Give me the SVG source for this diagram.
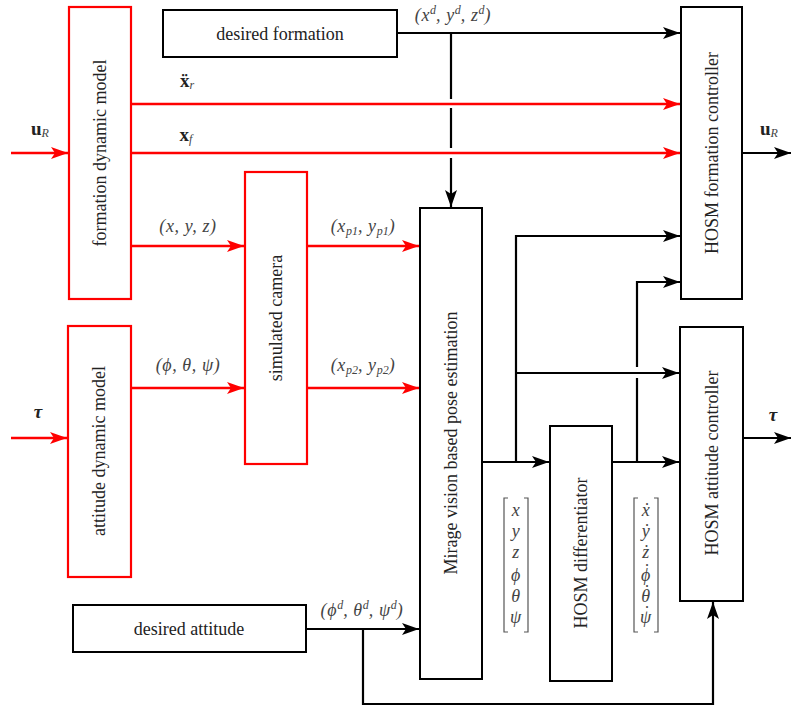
<svg xmlns="http://www.w3.org/2000/svg" width="791" height="706" viewBox="0 0 791 706">
<defs>
<style>
.rb{fill:#fff;stroke:#f00;stroke-width:2.2}
.bb{fill:#fff;stroke:#000;stroke-width:2}
.lbl{font-family:"Liberation Serif","Times New Roman",serif;font-size:18px;fill:#222;text-anchor:middle}
.m{font-family:"Liberation Serif","DejaVu Serif",serif;font-style:italic;font-size:18px;fill:#444;text-anchor:middle;letter-spacing:0.6px}
.dot{font-family:"Liberation Serif","DejaVu Serif",serif;font-size:18px;fill:#444;text-anchor:middle}
.mb{font-family:"Liberation Serif","DejaVu Serif",serif;font-weight:bold;font-size:19px;fill:#222;text-anchor:middle}
.sub{font-size:12px;letter-spacing:0}
.r{fill:none;stroke:#f00;stroke-width:2.5}
.k{fill:none;stroke:#000;stroke-width:2.2}
.br{fill:none;stroke:#555;stroke-width:1.2}
</style>
<marker id="ak" markerUnits="userSpaceOnUse" markerWidth="18" markerHeight="14" viewBox="-17 -7 18 14" refX="0" refY="0" orient="auto">
<path d="M0,0 L-17,-6 L-13,0 L-17,6 Z" fill="#000"/>
</marker>
<marker id="ar" markerUnits="userSpaceOnUse" markerWidth="18" markerHeight="14" viewBox="-17 -7 18 14" refX="0" refY="0" orient="auto">
<path d="M0,0 L-17,-6 L-13,0 L-17,6 Z" fill="#f00"/>
</marker>
</defs>
<rect width="791" height="706" fill="#fff"/>

<g id="connectors">
<path class="r" d="M11,153 H68" marker-end="url(#ar)"/>
<path class="r" d="M11,438 H67" marker-end="url(#ar)"/>
<path class="r" d="M132,104 H680" marker-end="url(#ar)"/>
<path class="r" d="M132,153 H680" marker-end="url(#ar)"/>
<path class="r" d="M132,246 H244" marker-end="url(#ar)"/>
<path class="r" d="M132,388 H244" marker-end="url(#ar)"/>
<path class="r" d="M308,246 H419" marker-end="url(#ar)"/>
<path class="r" d="M308,388 H419" marker-end="url(#ar)"/>
<path class="k" d="M398,33 H680" marker-end="url(#ak)"/>
<path class="k" d="M451,33 V99 M451,108 V148 M451,158 V207" marker-end="url(#ak)"/>
<path class="k" d="M483,462 H549" marker-end="url(#ak)"/>
<path class="k" d="M516,462 V236 H680" marker-end="url(#ak)"/>
<path class="k" d="M516,373 H679" marker-end="url(#ak)"/>
<path class="k" d="M613,462 H679" marker-end="url(#ak)"/>
<path class="k" d="M637,462 V378 M637,367 V282 H680" marker-end="url(#ak)"/>
<path class="k" d="M307,629 H419" marker-end="url(#ak)"/>
<path class="k" d="M363,629 V704 H713 V602" marker-end="url(#ak)"/>
<path class="k" d="M743,153 H791" marker-end="url(#ak)"/>
<path class="k" d="M744,438 H791" marker-end="url(#ak)"/>
</g>

<g id="formation-dynamic-model">
<rect class="rb" x="69" y="7" width="62" height="292"/>
<text class="lbl" transform="translate(106,153) rotate(-90)">formation dynamic model</text>
</g>
<g id="attitude-dynamic-model">
<rect class="rb" x="68" y="326" width="63" height="251"/>
<text class="lbl" transform="translate(105,451) rotate(-90)">attitude dynamic model</text>
</g>
<g id="simulated-camera">
<rect class="rb" x="245" y="172" width="62" height="292"/>
<text class="lbl" transform="translate(282,318) rotate(-90)">simulated camera</text>
</g>
<g id="desired-formation">
<rect class="bb" x="163" y="10" width="234" height="47"/>
<text class="lbl" x="280" y="40">desired formation</text>
</g>
<g id="desired-attitude">
<rect class="bb" x="73" y="605" width="233" height="47"/>
<text class="lbl" x="189" y="635">desired attitude</text>
</g>
<g id="pose-estimation">
<rect class="bb" x="420" y="208" width="62" height="471"/>
<text class="lbl" transform="translate(457,443) rotate(-90)">Mirage vision based pose estimation</text>
</g>
<g id="hosm-differentiator">
<rect class="bb" x="550" y="426" width="62" height="255"/>
<text class="lbl" transform="translate(587,553) rotate(-90)">HOSM differentiator</text>
</g>
<g id="hosm-formation-controller">
<rect class="bb" x="681" y="7" width="61" height="292"/>
<text class="lbl" transform="translate(718,153) rotate(-90)">HOSM formation controller</text>
</g>
<g id="hosm-attitude-controller">
<rect class="bb" x="680" y="327" width="63" height="274"/>
<text class="lbl" transform="translate(718,463) rotate(-90)">HOSM attitude controller</text>
</g>

<g id="labels">
<text class="mb" x="40" y="135">u<tspan class="sub" dy="2" font-weight="normal" font-style="italic" fill="#444">R</tspan></text>
<text class="mb" x="769" y="135">u<tspan class="sub" dy="2" font-weight="normal" font-style="italic" fill="#444">R</tspan></text>
<text class="mb" font-style="italic" x="38" y="418">τ</text>
<text class="mb" font-style="italic" x="773" y="421">τ</text>
<text class="mb" x="187" y="87">ẍ<tspan class="sub" dy="2" font-weight="normal" font-style="italic" fill="#444">r</tspan></text>
<text class="mb" x="186" y="141">x<tspan class="sub" dy="2" font-weight="normal" font-style="italic" fill="#444">f</tspan></text>
<text class="m" x="453" y="21">(x<tspan class="sub" dy="-7">d</tspan><tspan dy="7">, y</tspan><tspan class="sub" dy="-7">d</tspan><tspan dy="7">, z</tspan><tspan class="sub" dy="-7">d</tspan><tspan dy="7">)</tspan></text>
<text class="m" x="188" y="232">(x, y, z)</text>
<text class="m" x="188" y="371">(ϕ, θ, ψ)</text>
<text class="m" x="363" y="232">(x<tspan class="sub" dy="3">p1</tspan><tspan dy="-3">, y</tspan><tspan class="sub" dy="3">p1</tspan><tspan dy="-3">)</tspan></text>
<text class="m" x="363" y="371">(x<tspan class="sub" dy="3">p2</tspan><tspan dy="-3">, y</tspan><tspan class="sub" dy="3">p2</tspan><tspan dy="-3">)</tspan></text>
<text class="m" x="362" y="616">(ϕ<tspan class="sub" dy="-7">d</tspan><tspan dy="7">, θ</tspan><tspan class="sub" dy="-7">d</tspan><tspan dy="7">, ψ</tspan><tspan class="sub" dy="-7">d</tspan><tspan dy="7">)</tspan></text>
</g>

<g id="state-vector">
<path class="br" d="M508,498 H504 V632 H508 M524,498 H528 V632 H524"/>
<text class="m" x="516" y="516">x</text>
<text class="m" x="516" y="537">y</text>
<text class="m" x="516" y="558">z</text>
<text class="m" x="516" y="581">ϕ</text>
<text class="m" x="516" y="602">θ</text>
<text class="m" x="516" y="623">ψ</text>
</g>
<g id="state-derivative-vector">
<path class="br" d="M638,498 H634 V632 H638 M654,498 H658 V632 H654"/>
<text class="m" x="646" y="516">ẋ</text>
<text class="m" x="646" y="537">ẏ</text>
<text class="m" x="646" y="558">ż</text>
<text class="m" x="646" y="581">ϕ</text>
<text class="dot" x="647" y="577">˙</text>
<text class="m" x="646" y="602">θ</text>
<text class="dot" x="647" y="598">˙</text>
<text class="m" x="646" y="623">ψ</text>
<text class="dot" x="647" y="619">˙</text>
</g>
</svg>
